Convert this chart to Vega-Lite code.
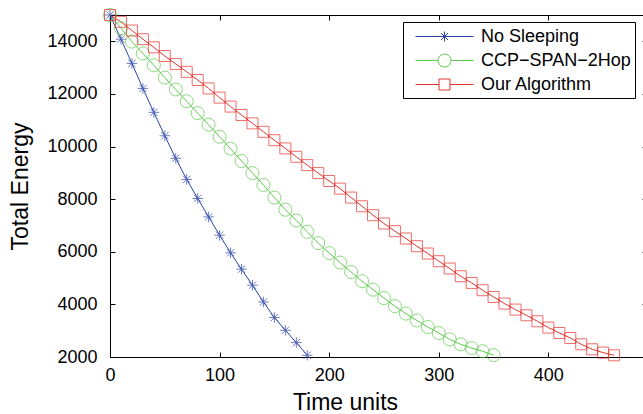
{
  "$schema": "https://vega.github.io/schema/vega-lite/v6.json",
  "autosize": {"type": "none"},
  "padding": {"left": 110, "top": 15, "right": 0, "bottom": 57},
  "width": 537,
  "height": 342,
  "background": "white",
  "config": {
    "view": {"stroke": "black", "strokeWidth": 1},
    "axis": {
      "labelFont": "Liberation Sans",
      "titleFont": "Liberation Sans",
      "labelFontSize": 18,
      "labelColor": "#000",
      "titleColor": "#000",
      "titleFontSize": 23,
      "titleFontWeight": "normal",
      "domainColor": "#000",
      "tickColor": "#000",
      "grid": false,
      "labelFlush": false
    },
    "legend": {"labelFont": "Liberation Sans"}
  },
  "data": {
    "values": [
      {"series": "No Sleeping", "t": 0, "energy": 15000},
      {"series": "No Sleeping", "t": 10, "energy": 14080},
      {"series": "No Sleeping", "t": 20, "energy": 13160},
      {"series": "No Sleeping", "t": 30, "energy": 12210},
      {"series": "No Sleeping", "t": 40, "energy": 11300},
      {"series": "No Sleeping", "t": 50, "energy": 10410},
      {"series": "No Sleeping", "t": 60, "energy": 9550},
      {"series": "No Sleeping", "t": 70, "energy": 8750},
      {"series": "No Sleeping", "t": 80, "energy": 8025},
      {"series": "No Sleeping", "t": 90, "energy": 7326},
      {"series": "No Sleeping", "t": 100, "energy": 6630},
      {"series": "No Sleeping", "t": 110, "energy": 5960},
      {"series": "No Sleeping", "t": 120, "energy": 5337},
      {"series": "No Sleeping", "t": 130, "energy": 4728},
      {"series": "No Sleeping", "t": 140, "energy": 4093},
      {"series": "No Sleeping", "t": 150, "energy": 3499},
      {"series": "No Sleeping", "t": 160, "energy": 3016},
      {"series": "No Sleeping", "t": 170, "energy": 2548},
      {"series": "No Sleeping", "t": 180, "energy": 2065},
      {"series": "CCP−SPAN−2Hop", "t": 0, "energy": 15000},
      {"series": "CCP−SPAN−2Hop", "t": 10, "energy": 14500},
      {"series": "CCP−SPAN−2Hop", "t": 20, "energy": 13990},
      {"series": "CCP−SPAN−2Hop", "t": 30, "energy": 13540},
      {"series": "CCP−SPAN−2Hop", "t": 40, "energy": 13090},
      {"series": "CCP−SPAN−2Hop", "t": 50, "energy": 12620},
      {"series": "CCP−SPAN−2Hop", "t": 60, "energy": 12170},
      {"series": "CCP−SPAN−2Hop", "t": 70, "energy": 11720},
      {"series": "CCP−SPAN−2Hop", "t": 80, "energy": 11270},
      {"series": "CCP−SPAN−2Hop", "t": 90, "energy": 10830},
      {"series": "CCP−SPAN−2Hop", "t": 100, "energy": 10370},
      {"series": "CCP−SPAN−2Hop", "t": 110, "energy": 9920},
      {"series": "CCP−SPAN−2Hop", "t": 120, "energy": 9450},
      {"series": "CCP−SPAN−2Hop", "t": 130, "energy": 8990},
      {"series": "CCP−SPAN−2Hop", "t": 140, "energy": 8540},
      {"series": "CCP−SPAN−2Hop", "t": 150, "energy": 8060},
      {"series": "CCP−SPAN−2Hop", "t": 160, "energy": 7600},
      {"series": "CCP−SPAN−2Hop", "t": 170, "energy": 7190},
      {"series": "CCP−SPAN−2Hop", "t": 180, "energy": 6760},
      {"series": "CCP−SPAN−2Hop", "t": 190, "energy": 6330},
      {"series": "CCP−SPAN−2Hop", "t": 200, "energy": 5950},
      {"series": "CCP−SPAN−2Hop", "t": 210, "energy": 5590},
      {"series": "CCP−SPAN−2Hop", "t": 220, "energy": 5230},
      {"series": "CCP−SPAN−2Hop", "t": 230, "energy": 4880},
      {"series": "CCP−SPAN−2Hop", "t": 240, "energy": 4560},
      {"series": "CCP−SPAN−2Hop", "t": 250, "energy": 4240},
      {"series": "CCP−SPAN−2Hop", "t": 260, "energy": 3930},
      {"series": "CCP−SPAN−2Hop", "t": 270, "energy": 3650},
      {"series": "CCP−SPAN−2Hop", "t": 280, "energy": 3390},
      {"series": "CCP−SPAN−2Hop", "t": 290, "energy": 3140},
      {"series": "CCP−SPAN−2Hop", "t": 300, "energy": 2910},
      {"series": "CCP−SPAN−2Hop", "t": 310, "energy": 2670},
      {"series": "CCP−SPAN−2Hop", "t": 320, "energy": 2480},
      {"series": "CCP−SPAN−2Hop", "t": 330, "energy": 2340},
      {"series": "CCP−SPAN−2Hop", "t": 340, "energy": 2220},
      {"series": "CCP−SPAN−2Hop", "t": 350, "energy": 2070},
      {"series": "Our Algorithm", "t": 0, "energy": 15000},
      {"series": "Our Algorithm", "t": 10, "energy": 14740},
      {"series": "Our Algorithm", "t": 20, "energy": 14410},
      {"series": "Our Algorithm", "t": 30, "energy": 14080},
      {"series": "Our Algorithm", "t": 40, "energy": 13770},
      {"series": "Our Algorithm", "t": 50, "energy": 13440},
      {"series": "Our Algorithm", "t": 60, "energy": 13140},
      {"series": "Our Algorithm", "t": 70, "energy": 12840},
      {"series": "Our Algorithm", "t": 80, "energy": 12530},
      {"series": "Our Algorithm", "t": 90, "energy": 12210},
      {"series": "Our Algorithm", "t": 100, "energy": 11860},
      {"series": "Our Algorithm", "t": 110, "energy": 11520},
      {"series": "Our Algorithm", "t": 120, "energy": 11200},
      {"series": "Our Algorithm", "t": 130, "energy": 10880},
      {"series": "Our Algorithm", "t": 140, "energy": 10560},
      {"series": "Our Algorithm", "t": 150, "energy": 10240},
      {"series": "Our Algorithm", "t": 160, "energy": 9930},
      {"series": "Our Algorithm", "t": 170, "energy": 9610},
      {"series": "Our Algorithm", "t": 180, "energy": 9294},
      {"series": "Our Algorithm", "t": 190, "energy": 8990},
      {"series": "Our Algorithm", "t": 200, "energy": 8690},
      {"series": "Our Algorithm", "t": 210, "energy": 8400},
      {"series": "Our Algorithm", "t": 220, "energy": 8060},
      {"series": "Our Algorithm", "t": 230, "energy": 7730},
      {"series": "Our Algorithm", "t": 240, "energy": 7390},
      {"series": "Our Algorithm", "t": 250, "energy": 7075},
      {"series": "Our Algorithm", "t": 260, "energy": 6782},
      {"series": "Our Algorithm", "t": 270, "energy": 6504},
      {"series": "Our Algorithm", "t": 280, "energy": 6212},
      {"series": "Our Algorithm", "t": 290, "energy": 5934},
      {"series": "Our Algorithm", "t": 300, "energy": 5641},
      {"series": "Our Algorithm", "t": 310, "energy": 5363},
      {"series": "Our Algorithm", "t": 320, "energy": 5070},
      {"series": "Our Algorithm", "t": 330, "energy": 4816},
      {"series": "Our Algorithm", "t": 340, "energy": 4538},
      {"series": "Our Algorithm", "t": 350, "energy": 4283},
      {"series": "Our Algorithm", "t": 360, "energy": 4031},
      {"series": "Our Algorithm", "t": 370, "energy": 3803},
      {"series": "Our Algorithm", "t": 380, "energy": 3586},
      {"series": "Our Algorithm", "t": 390, "energy": 3358},
      {"series": "Our Algorithm", "t": 400, "energy": 3118},
      {"series": "Our Algorithm", "t": 410, "energy": 2913},
      {"series": "Our Algorithm", "t": 420, "energy": 2723},
      {"series": "Our Algorithm", "t": 430, "energy": 2483},
      {"series": "Our Algorithm", "t": 440, "energy": 2293},
      {"series": "Our Algorithm", "t": 450, "energy": 2168},
      {"series": "Our Algorithm", "t": 460, "energy": 2065}
    ]
  },
  "resolve": {"axis": {"x": "independent", "y": "independent"}},
  "layer": [
    {
      "mark": {"type": "line", "strokeWidth": 1},
      "encoding": {
        "x": {
          "field": "t", "type": "quantitative",
          "scale": {"domain": [0, 490], "nice": false, "zero": false},
          "axis": {
            "values": [0, 100, 200, 300, 400],
            "format": "d",
            "tickSize": -5,
            "labelPadding": 14,
            "title": "Time units",
            "titleX": 235, "titleY": 52,
            "titleAlign": "center", "titleBaseline": "alphabetic"
          }
        },
        "y": {
          "field": "energy", "type": "quantitative",
          "scale": {"domain": [2000, 15000], "nice": false, "zero": false},
          "axis": {
            "values": [2000, 4000, 6000, 8000, 10000, 12000, 14000],
            "format": "d",
            "tickSize": -5,
            "labelPadding": 18,
            "title": "Total Energy",
            "titleX": -83, "titleY": 171,
            "titleAngle": 270,
            "titleAlign": "center", "titleBaseline": "alphabetic"
          }
        },
        "color": {
          "field": "series", "type": "nominal",
          "scale": {
            "domain": ["No Sleeping", "CCP−SPAN−2Hop", "Our Algorithm"],
            "range": ["#2c44a8", "#5acb48", "#e8302a"]
          },
          "legend": {
            "title": null,
            "orient": "none",
            "legendX": 293,
            "legendY": 7,
            "padding": 4,
            "strokeColor": "#000",
            "fillColor": "white",
            "cornerRadius": 0,
            "labelFontSize": 18,
            "labelColor": "#000",
            "labelOffset": 53,
            "rowPadding": 4,
            "symbolSize": 400,
            "symbolStrokeWidth": 1,
            "encode": {
              "symbols": {
                "update": {
                  "fill": {"value": "transparent"},
                  "shape": {"signal": "datum.index === 0 ? 'M-0.2,0L5.6,0M2.2,0L3.2,0M2.7,-0.5L2.7,0.5M2.35,-0.35L3.05,0.35M2.35,0.35L3.05,-0.35' : datum.index === 1 ? 'M-0.2,0L2.05,0M3.35,0L5.6,0M2.05,0A0.65,0.65,0,1,0,3.35,0A0.65,0.65,0,1,0,2.05,0' : 'M-0.2,0L2.15,0M3.25,0L5.6,0M2.15,-0.55L3.25,-0.55L3.25,0.55L2.15,0.55Z'"}
                }
              }
            }
          }
        }
      }
    },
    {
      "transform": [{"filter": "datum.series === 'No Sleeping'"}],
      "mark": {"type": "point", "filled": false, "strokeWidth": 1, "color": "#2c44a8", "size": 110, "shape": "M-1,0L1,0M0,-1L0,1M-0.7,-0.7L0.7,0.7M-0.7,0.7L0.7,-0.7"},
      "encoding": {
        "x": {
          "field": "t", "type": "quantitative",
          "axis": {
            "orient": "top", "values": [0, 100, 200, 300, 400],
            "tickSize": -5, "labels": false, "title": null, "domain": false
          }
        },
        "y": {
          "field": "energy", "type": "quantitative",
          "axis": {
            "orient": "right", "values": [2000, 4000, 6000, 8000, 10000, 12000, 14000],
            "tickSize": -5, "labels": false, "title": null, "domain": false
          }
        }
      }
    },
    {
      "transform": [{"filter": "datum.series !== 'No Sleeping' && datum.series !== 'Our Algorithm'"}],
      "mark": {"type": "point", "filled": false, "strokeWidth": 1, "color": "#5acb48", "size": 170, "shape": "circle"},
      "encoding": {
        "x": {"field": "t", "type": "quantitative", "axis": null},
        "y": {"field": "energy", "type": "quantitative", "axis": null}
      }
    },
    {
      "transform": [{"filter": "datum.series === 'Our Algorithm'"}],
      "mark": {"type": "point", "filled": false, "strokeWidth": 1, "color": "#e8302a", "size": 121, "shape": "square"},
      "encoding": {
        "x": {"field": "t", "type": "quantitative", "axis": null},
        "y": {"field": "energy", "type": "quantitative", "axis": null}
      }
    }
  ]
}
